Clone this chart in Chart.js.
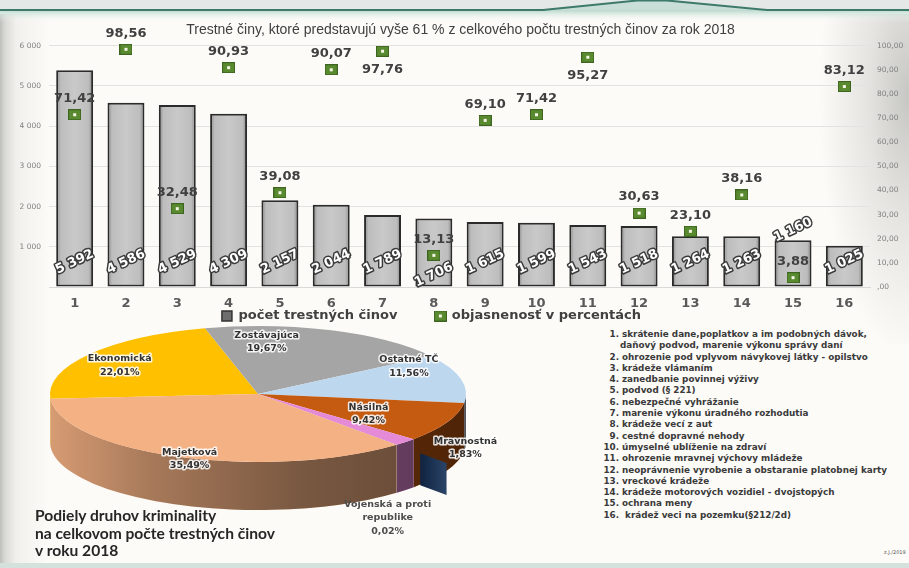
<!DOCTYPE html>
<html>
<head>
<meta charset="utf-8">
<script src="https://cdn.jsdelivr.net/npm/chart.js@4.4.1/dist/chart.umd.min.js"></script>
<style>
html, body { margin: 0; padding: 0; }
body { width: 909px; height: 568px; position: relative; overflow: hidden; background: #fcfbf8; font-family: "DejaVu Sans", sans-serif; }
#shadeLeft { position: absolute; left: 0; top: 14px; width: 60px; height: 552px;
  background: linear-gradient(to right, #bebebb 0px, #d9d9d5 5px, #f1f0ec 16px, rgba(252,251,248,0) 50px); }
#shadeRight { position: absolute; left: 820px; top: 14px; width: 89px; height: 330px;
  background: radial-gradient(ellipse 90px 260px at 100% 25%, #c6c6c3 0%, #e4e3e0 45%, rgba(252,251,248,0) 100%); }
#bottomBand { position: absolute; left: 0; top: 563px; width: 909px; height: 5px; background: #d5e1dc; }
#barBox { position: absolute; left: 0; top: 20px; }
#pieBox { position: absolute; left: 0; top: 320px; }
#pieTitle { position: absolute; left: 35px; top: 507px; font-family: Lato, sans-serif; font-weight: bold;
  font-size: 15.6px; line-height: 17.5px; color: #262626; white-space: nowrap; }
#typeList { position: absolute; left: 600px; top: 329px; font-family: "DejaVu Sans", sans-serif; font-weight: bold;
  font-size: 8.8px; line-height: 11.3px; color: #3a3a3a; white-space: nowrap; }
#typeList .n { display: inline-block; width: 19px; padding-right: 3px; text-align: right; }
#typeList .cont { padding-left: 20px; }
#stamp { position: absolute; left: 884px; top: 549px; font-size: 5px; color: #555; }
</style>
</head>
<body>
<div id="shadeLeft"></div>
<div id="shadeRight"></div>
<svg style="position:absolute;left:0;top:0" width="909" height="24">
  <defs>
    <linearGradient id="tealFade" x1="0" y1="0" x2="0" y2="1">
      <stop offset="0" stop-color="#b9d8cd"/>
      <stop offset="1" stop-color="#fcfbf8" stop-opacity="0"/>
    </linearGradient>
  </defs>
  <rect x="0" y="0" width="909" height="10" fill="#e4e8e6"/>
  <rect x="0" y="10" width="909" height="12" fill="url(#tealFade)"/>
  <polygon points="543,10 637,0.5 667,0.5 767,10" fill="#c9ded6"/>
  <polyline points="0,10 543,10 637,0.5 667,0.5 767,10 909,10" fill="none" stroke="#3d7a69" stroke-width="2"/>
</svg>
<div id="bottomBand"></div>

<canvas id="barBox" width="909" height="305"></canvas>
<canvas id="pieBox" width="600" height="240"></canvas>

<div id="pieTitle">Podiely druhov kriminality<br>na celkovom počte trestných činov<br>v roku 2018</div>
<div id="typeList"></div>
<div id="stamp">z.J./2019</div>

<script>
// bar chart data
const categories = ['1', '2', '3', '4', '5', '6', '7', '8', '9', '10', '11', '12', '13', '14', '15', '16'];
const crimeCounts = [5392, 4586, 4529, 4309, 2157, 2044, 1789, 1706, 1615, 1599, 1543, 1518, 1264, 1263, 1160, 1025];
const clearanceRates = [71.42, 98.56, 32.48, 90.93, 39.08, 90.07, 97.76, 13.13, 69.10, 71.42, 95.27, 30.63, 23.10, 38.16, 3.88, 83.12];
const seriesNames = ['počet trestných činov', 'objasnenosť v percentách'];
const leftTickLabels = ['', '1 000', '2 000', '3 000', '4 000', '5 000', '6 000'];
const rightTickLabels = [',00', '10,00', '20,00', '30,00', '40,00', '50,00', '60,00', '70,00', '80,00', '90,00', '100,00'];
const chartTitle = 'Trestné činy, ktoré predstavujú vyše 61 % z celkového počtu trestných činov za rok 2018';

// pie chart data
const pieLabels = ['Ekonomická', 'Zostávajúca', 'Ostatné TČ', 'Násilná', 'Mravnostná', ['Vojenská a proti', 'republike'], 'Majetková'];
const pieShares = [22.01, 19.67, 11.56, 9.42, 1.83, 0.02, 35.49];

// legend of the bar categories
const crimeTypes = [
    ['skrátenie dane,poplatkov a im podobných dávok,', 'daňový podvod, marenie výkonu správy daní'],
    'ohrozenie pod vplyvom návykovej látky - opilstvo',
    'krádeže vlámaním',
    'zanedbanie povinnej výživy',
    'podvod (§ 221)',
    'nebezpečné vyhrážanie',
    'marenie výkonu úradného rozhodutia',
    'krádeže vecí z aut',
    'cestné dopravné nehody',
    'úmyselné ublíženie na zdraví',
    'ohrozenie mravnej výchovy mládeže',
    'neoprávnenie vyrobenie a obstaranie platobnej karty',
    'vreckové krádeže',
    'krádeže motorových vozidiel - dvojstopých',
    'ochrana meny',
    '\u00a0krádež veci na pozemku(§212/2d)'
];

// styles
const pieColors = ['#ffc000', '#a5a5a5', '#bdd7ee', '#c55a11', '#e58ad6', '#1f3354', '#f4b183'];
const pieGeom = { cx: 258, cy: 74, rx: 208, ry: 68, depth: 48 };
const explodeIndex = 5;
const explodeWall = { from: 1.17, to: 1.36, depth: 32 };
// label placement: fraction of radius along the slice middle, then a nudge
const pieLabelPlace = [
    { f: 0.8, dx: -3, dy: 3, halo: true },
    { f: 0.8, dx: -50, dy: -1, halo: true },
    { f: 0.75, dx: -1, dy: -16, halo: true },
    { f: 0.6, dx: -3, dy: 3, halo: true },
    { f: 1.0, dx: 60, dy: 6, halo: true },
    { f: 1.0, dx: -9, dy: 73, halo: false },
    { f: 0.95, dx: 6, dy: 5, halo: true }
];
const barLabelShift = { 7: 13, 14: -32 };
const pointLabelBelow = [6, 10];

const fmtCount = v => String(v).replace(/\B(?=(\d{3})+(?!\d))/g, ' ');
const fmtPct = v => v.toFixed(2).replace('.', ',');

// list on the right
const list = document.getElementById('typeList');
crimeTypes.forEach((t, i) => {
    const lines = Array.isArray(t) ? t : [t];
    lines.forEach((ln, k) => {
        const row = document.createElement('div');
        if (k === 0) {
            const n = document.createElement('span');
            n.className = 'n';
            n.textContent = (i + 1) + '.';
            row.appendChild(n);
            row.appendChild(document.createTextNode(ln));
        } else {
            row.className = 'cont';
            row.textContent = ln;
        }
        list.appendChild(row);
    });
});

// green marker used for the clearance points
function makeMarker() {
    const c = document.createElement('canvas');
    c.width = 13; c.height = 11;
    const g = c.getContext('2d');
    g.fillStyle = '#3d6520';
    g.fillRect(0, 0, 13, 11);
    g.fillStyle = '#5a8a30';
    g.fillRect(1, 1, 11, 9);
    g.fillStyle = '#f3f6e4';
    g.fillRect(5, 4, 3, 3);
    return c;
}
const marker = makeMarker();

function barFill(c) {
    const chart = c.chart;
    if (!chart.chartArea || c.type !== 'data') return '#c2c2c2';
    const xs = chart.scales.x;
    const x = xs.getPixelForValue(c.dataIndex);
    const w = xs.width / categories.length * 0.72;
    const g = chart.ctx.createLinearGradient(x - w / 2, 0, x + w / 2, 0);
    g.addColorStop(0, '#808080');
    g.addColorStop(0.12, '#bdbdbd');
    g.addColorStop(0.5, '#c9c9c9');
    g.addColorStop(0.88, '#bdbdbd');
    g.addColorStop(1, '#808080');
    return g;
}

// value labels for bars and points
const valueLabels = {
    id: 'valueLabels',
    afterDatasetsDraw(chart) {
        const ctx = chart.ctx;
        const base = chart.scales.y.getPixelForValue(0);
        ctx.save();
        ctx.textAlign = 'center';
        ctx.textBaseline = 'middle';
        ctx.lineJoin = 'round';
        ctx.font = 'bold 13px "DejaVu Sans"';
        chart.getDatasetMeta(0).data.forEach((bar, i) => {
            ctx.save();
            ctx.translate(bar.x, base - 25 + (barLabelShift[i] || 0));
            ctx.rotate(-25 * Math.PI / 180);
            const txt = fmtCount(crimeCounts[i]);
            ctx.lineWidth = 3;
            ctx.strokeStyle = '#3b3b3b';
            ctx.strokeText(txt, 0, 0);
            ctx.fillStyle = '#ffffff';
            ctx.fillText(txt, 0, 0);
            ctx.restore();
        });
        ctx.fillStyle = '#404040';
        chart.getDatasetMeta(1).data.forEach((pt, i) => {
            const dy = pointLabelBelow.includes(i) ? 18 : -16;
            ctx.fillText(fmtPct(clearanceRates[i]), pt.x, pt.y + dy);
        });
        ctx.restore();
    }
};

// move legend and title to where the slide has them
const legendGap = 38;
const blockShift = {
    id: 'blockShift',
    afterLayout(chart) {
        const lg = chart.legend;
        lg.left -= 23;
        lg.right -= 23;
        lg.top = 296 - legendGap - 6.5;
        chart.titleBlock.left += 6;
        chart.titleBlock.right += 6;
    }
};

new Chart(document.getElementById('barBox'), {
    type: 'bar',
    data: {
        labels: categories,
        datasets: [
            {
                type: 'bar',
                label: seriesNames[0],
                data: crimeCounts,
                yAxisID: 'y',
                order: 2,
                backgroundColor: barFill,
                borderColor: '#2b2b2b',
                borderWidth: 2,
                borderSkipped: false,
                barPercentage: 0.72,
                categoryPercentage: 1
            },
            {
                type: 'line',
                label: seriesNames[1],
                data: clearanceRates,
                yAxisID: 'y1',
                order: 1,
                showLine: false,
                pointStyle: marker,
                pointRadius: 6,
                clip: false
            }
        ]
    },
    options: {
        responsive: false,
        animation: false,
        layout: { padding: 0 },
        scales: {
            x: {
                grid: { display: false, drawTicks: false },
                border: { color: '#d9d9d9' },
                ticks: { color: '#595959', padding: 9, autoSkip: false, maxRotation: 0,
                    font: { family: 'DejaVu Sans', size: 13, weight: 'bold' } },
                afterFit: s => { s.height = 28; }
            },
            y: {
                position: 'left',
                min: 0, max: 6000,
                grid: { color: '#e2e2e2', drawTicks: false },
                border: { display: false },
                ticks: { stepSize: 1000, padding: 8, color: '#808080',
                    font: { family: 'DejaVu Sans', size: 7.5 },
                    callback: (v, i) => leftTickLabels[i] },
                afterFit: s => { s.width = 49; }
            },
            y1: {
                position: 'right',
                min: 0, max: 100,
                grid: { display: false, drawTicks: false },
                border: { display: false },
                ticks: { stepSize: 10, padding: 7, color: '#808080',
                    font: { family: 'DejaVu Sans', size: 7.5 },
                    callback: (v, i) => rightTickLabels[i] },
                afterFit: s => { s.width = 39; }
            }
        },
        plugins: {
            title: {
                display: true,
                text: chartTitle,
                color: '#404040',
                font: { family: 'Liberation Sans', size: 14, weight: 'normal' },
                padding: { top: 2, bottom: 7 }
            },
            legend: {
                position: 'bottom',
                maxHeight: 10,
                labels: {
                    usePointStyle: true,
                    boxWidth: 10,
                    boxHeight: 10,
                    padding: legendGap,
                    color: '#404040',
                    font: { family: 'DejaVu Sans', size: 13, weight: 'bold' },
                    generateLabels: () => [
                        { text: seriesNames[0], fillStyle: '#6e6e6e', strokeStyle: '#333333', lineWidth: 1.5,
                          pointStyle: 'rect', datasetIndex: 0, hidden: false, fontColor: '#404040' },
                        { text: seriesNames[1], fillStyle: '#5a8a30', strokeStyle: '#3d6520', lineWidth: 0,
                          pointStyle: marker, datasetIndex: 1, hidden: false, fontColor: '#404040' }
                    ]
                }
            },
            tooltip: { enabled: false }
        }
    },
    plugins: [valueLabels, blockShift]
});

// 3D look for the pie: front walls, squashed top faces, exploded sliver
const pie3d = {
    id: 'pie3d',
    beforeDatasetDraw(chart) {
        const ctx = chart.ctx;
        const arcs = chart.getDatasetMeta(0).data;
        const { cx, cy, rx, ry, depth } = pieGeom;
        const shade = ctx.createLinearGradient(cx - rx, 0, cx + rx, 0);
        shade.addColorStop(0, 'rgba(0,0,0,0.12)');
        shade.addColorStop(0.25, 'rgba(0,0,0,0.32)');
        shade.addColorStop(0.6, 'rgba(0,0,0,0.5)');
        shade.addColorStop(1, 'rgba(0,0,0,0.6)');
        // front walls
        arcs.forEach((arc, i) => {
            if (i === explodeIndex) return;
            for (let k = -1; k <= 2; k++) {
                const lo = Math.max(arc.startAngle, k * 2 * Math.PI);
                const hi = Math.min(arc.endAngle, k * 2 * Math.PI + Math.PI);
                if (hi <= lo) continue;
                ctx.beginPath();
                ctx.ellipse(cx, cy, rx, ry, 0, lo, hi, false);
                ctx.ellipse(cx, cy + depth, rx, ry, 0, hi, lo, true);
                ctx.closePath();
                ctx.fillStyle = arc.options.backgroundColor;
                ctx.fill();
                ctx.fillStyle = shade;
                ctx.fill();
            }
        });
        // top faces, drawn by the library and squashed
        const a0 = arcs[0];
        ctx.save();
        ctx.translate(cx, cy);
        ctx.scale(rx / a0.outerRadius, ry / a0.outerRadius);
        ctx.translate(-a0.x, -a0.y);
        arcs.forEach(arc => arc.draw(ctx));
        ctx.restore();
        // exploded sliver wall
        const ex = arcs[explodeIndex];
        const t = (ex.startAngle + ex.endAngle) / 2;
        const p = r => [cx + rx * r * Math.cos(t), cy + ry * r * Math.sin(t)];
        const [ax, ay] = p(explodeWall.from);
        const [bx, by] = p(explodeWall.to);
        const wall = ctx.createLinearGradient(ax, 0, bx, 0);
        wall.addColorStop(0, '#102340');
        wall.addColorStop(1, '#2a4468');
        ctx.beginPath();
        ctx.moveTo(ax, ay);
        ctx.lineTo(bx, by);
        ctx.lineTo(bx, by + explodeWall.depth);
        ctx.lineTo(ax, ay + explodeWall.depth);
        ctx.closePath();
        ctx.fillStyle = wall;
        ctx.fill();
        return false;
    },
    afterDatasetsDraw(chart) {
        const ctx = chart.ctx;
        const arcs = chart.getDatasetMeta(0).data;
        const { cx, cy, rx, ry } = pieGeom;
        ctx.save();
        ctx.textAlign = 'center';
        ctx.textBaseline = 'middle';
        ctx.lineJoin = 'round';
        ctx.font = 'bold 9.5px "DejaVu Sans"';
        arcs.forEach((arc, i) => {
            const st = pieLabelPlace[i];
            const t = (arc.startAngle + arc.endAngle) / 2;
            const x = cx + rx * st.f * Math.cos(t) + st.dx;
            const y = cy + ry * st.f * Math.sin(t) + st.dy;
            const name = pieLabels[i];
            const lines = (Array.isArray(name) ? name : [name]).concat(fmtPct(pieShares[i]) + '%');
            lines.forEach((ln, k) => {
                const yy = y + (k - (lines.length - 1) / 2) * 13.5;
                if (st.halo) {
                    ctx.lineWidth = 3;
                    ctx.strokeStyle = 'rgba(255,255,255,0.85)';
                    ctx.strokeText(ln, x, yy);
                    ctx.fillStyle = '#333333';
                } else {
                    ctx.fillStyle = '#4d4d4d';
                }
                ctx.fillText(ln, x, yy);
            });
        });
        ctx.restore();
    }
};

new Chart(document.getElementById('pieBox'), {
    type: 'pie',
    data: {
        labels: pieLabels,
        datasets: [{ data: pieShares, backgroundColor: pieColors, borderWidth: 0 }]
    },
    options: {
        responsive: false,
        animation: false,
        rotation: 266,
        layout: { padding: 0 },
        plugins: { legend: { display: false }, tooltip: { enabled: false } }
    },
    plugins: [pie3d]
});
</script>
</body>
</html>
